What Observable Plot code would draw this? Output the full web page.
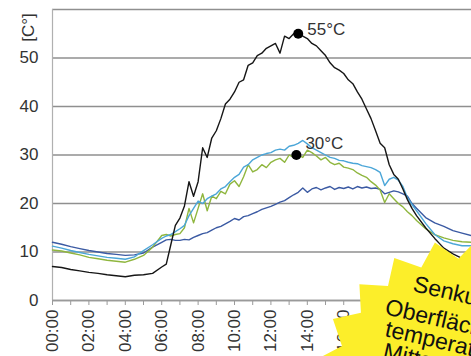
<!DOCTYPE html>
<html>
<head>
<meta charset="utf-8">
<script src="https://cdn.jsdelivr.net/npm/d3@7"></script>
<script src="https://cdn.jsdelivr.net/npm/@observablehq/plot@0.6"></script>
<style>
  html, body { margin: 0; padding: 0; background: #fff; }
  #chart { width: 471px; height: 356px; overflow: hidden; }
</style>
</head>
<body>
<div id="chart"></div>
<script>
// ---- data ----
const hours = [0,0.5,1,1.5,2,2.5,3,3.5,4,4.5,5,5.5,6,
  6.25,6.5,6.75,7,7.25,7.5,7.75,8,8.25,8.5,8.75,9,9.25,9.5,9.75,10,
  10.25,10.5,10.75,11,11.25,11.5,11.75,12,12.25,12.5,12.75,13,13.25,13.5,13.75,14,
  14.25,14.5,14.75,15,15.25,15.5,15.75,16,16.25,16.5,16.75,17,17.25,17.5,17.75,18,
  18.25,18.5,18.75,19,19.25,19.5,19.75,20,20.5,21,21.5,22,22.5,23];

const blackSeries = [7.0,6.8,6.4,6.1,5.8,5.6,5.3,5.1,4.9,5.2,5.3,5.6,6.9,
  7.5,11.5,15.5,17.0,19.5,24.5,21.5,24.5,31.5,29.5,33.5,35.0,37.5,40.5,41.5,43.0,
  45.0,45.5,48.5,49.0,50.5,51.0,52.0,52.5,53.0,51.0,54.5,54.0,55.0,55.0,54.5,54.0,
  53.0,52.5,51.5,50.5,49.0,48.0,47.5,46.8,45.5,44.7,43.0,41.5,39.5,37.5,35.0,32.4,
  31.5,28.0,26.0,25.0,23.0,20.8,19.0,17.5,15.0,12.8,10.8,9.6,8.7,7.6];

const lightBlueSeries = [11.2,10.8,10.3,9.9,9.5,9.2,8.9,8.7,8.5,9.0,10.3,11.5,12.8,
  13.3,13.6,14.2,14.8,15.5,17.5,19.0,20.5,20.0,21.0,21.5,22.0,23.0,23.5,24.5,25.4,
  26.0,27.5,28.0,29.0,29.5,30.0,30.3,30.5,31.0,31.2,31.0,31.8,32.0,32.4,33.0,32.3,
  31.5,31.0,30.5,30.0,29.5,29.3,28.9,28.8,28.5,28.3,28.2,27.8,27.6,27.4,27.0,26.4,
  23.7,25.0,25.4,24.8,23.5,21.2,19.8,18.5,15.9,13.6,12.3,11.7,11.3,11.3];

const greenSeries = [10.4,10.2,9.8,9.4,8.9,8.6,8.3,8.1,7.9,8.5,9.3,11.0,13.4,
  13.6,13.3,13.6,13.8,15.0,19.0,16.0,19.0,22.0,18.5,21.5,21.0,22.5,22.0,24.0,24.7,
  23.5,25.5,28.0,26.5,27.0,28.0,27.4,28.5,29.0,29.3,28.5,30.0,29.5,30.0,29.5,31.0,
  30.5,29.8,29.0,29.5,28.5,28.0,28.3,27.5,27.3,27.0,26.3,25.8,25.4,24.5,23.8,22.8,
  20.2,22.0,21.0,20.0,19.3,18.3,17.5,16.5,14.8,13.6,12.9,12.4,12.1,12.0];

const darkBlueSeries = [12.0,11.6,11.1,10.7,10.3,10.0,9.7,9.5,9.3,9.4,9.8,11.0,12.0,
  12.5,12.6,12.4,12.4,12.6,12.5,13.0,13.4,13.8,14.0,14.5,15.0,15.3,15.8,16.3,16.9,
  16.6,17.3,17.5,17.9,18.3,18.8,19.1,19.4,19.8,20.3,20.6,21.2,21.8,22.3,23.2,22.3,
  23.0,23.3,22.8,23.2,23.5,22.9,23.3,23.1,23.4,23.0,23.5,23.2,23.4,23.1,23.2,22.9,
  22.0,22.3,22.6,22.4,22.0,21.5,20.0,19.0,17.1,16.0,15.3,14.4,13.9,13.4];

const seriesNames  = ["dunkelblau", "gruen", "hellblau", "schwarz"];
const seriesValues = [darkBlueSeries, greenSeries, lightBlueSeries, blackSeries];
const seriesColors = ["#3b5aa3", "#8fb63e", "#4ba6d8", "#161616"];

const peakHours  = [13.5, 13.4];
const peakValues = [55, 30];
const peakLabels = ["55°C", "30°C"];

const yTicks = [0, 10, 20, 30, 40, 50];
const gridValues = [0, 10, 20, 30, 40, 50, 60];
const minorTickHours = d3.range(0, 24, 1);
const labelHours = [0, 2, 4, 6, 8, 10, 12, 14, 16, 18, 20, 22];
const labelTexts = ["00:00","02:00","04:00","06:00","08:00","10:00","12:00","14:00","16:00","18:00","20:00","22:00"];
const yAxisTitle = "[C°]";
const noteLines = ["Senkung der", "Oberflächen-", "temperatur", "Mittags"];

// ---- build tables ----
const rows = [];
seriesNames.forEach((name, i) => {
  hours.forEach((h, j) => rows.push({series: name, hour: h, value: seriesValues[i][j]}));
});
const peaks = peakHours.map((h, i) => ({hour: h, value: peakValues[i], label: peakLabels[i]}));
const labelMap = new Map(labelHours.map((h, i) => [h, labelTexts[i]]));

const font = "'Liberation Sans', Arial, Helvetica, sans-serif";

const chart = Plot.plot({
  width: 471,
  height: 356,
  marginLeft: 52,
  marginRight: 0,
  marginTop: 9,
  marginBottom: 56,
  style: {fontFamily: font, fontSize: "17px", color: "#333", background: "#fff"},
  x: {domain: [0, 23.02]},
  y: {domain: [0, 60]},
  color: {domain: seriesNames, range: seriesColors},
  marks: [
    Plot.gridY(gridValues, {stroke: "#8f8f8f", strokeOpacity: 1, strokeWidth: 1.4}),
    Plot.ruleX([0], {stroke: "#b0b0b0", strokeWidth: 1.2}),
    Plot.ruleY([0], {stroke: "#9a9a9a", strokeWidth: 1.4}),
    Plot.axisY({ticks: yTicks, tickSize: 0, tickPadding: 14, label: null, fill: "#333"}),
    Plot.axisX({ticks: minorTickHours, tickSize: 5, tickFormat: () => "", label: null, stroke: "#9a9a9a"}),
    Plot.axisX({ticks: labelHours, tickSize: 0, tickPadding: 9, tickRotate: -90,
      tickFormat: d => labelMap.get(d), label: null, fill: "#333"}),
    Plot.text([yAxisTitle], {frameAnchor: "top-left", dx: -24, dy: 18, rotate: -90,
      textAnchor: "middle", lineAnchor: "middle", text: d => d, fill: "#333", fontSize: 17}),
    Plot.line(rows, {x: "hour", y: "value", z: "series", stroke: "series", strokeWidth: 1.4,
      strokeLinejoin: "round"}),
    Plot.dot(peaks, {x: "hour", y: "value", r: 5, fill: "#000", stroke: "none"}),
    Plot.text(peaks.slice(0, 1), {x: "hour", y: "value", text: "label", textAnchor: "start",
      dx: 9, dy: -4, fill: "#333", fontSize: 17}),
    Plot.text(peaks.slice(1, 2), {x: "hour", y: "value", text: "label", textAnchor: "start",
      dx: 9, dy: -11, fill: "#333", fontSize: 17})
  ]
});

document.getElementById("chart").appendChild(chart);
const svg = d3.select(chart);

// ---- decorative yellow starburst note (cropped by the frame) ----
const cx = 472, cy = 398, rOuter = 160, rInner = 140, nSpikes = 23;
const a0 = -103.4 * Math.PI / 180;
const pts = [];
for (let k = 0; k < nSpikes * 2; k++) {
  const a = a0 + k * Math.PI / nSpikes;
  const r = k % 2 === 0 ? rOuter : rInner;
  pts.push([cx + r * Math.cos(a), cy + r * Math.sin(a)]);
}
const note = svg.append("g").attr("text-anchor", "start");
note.append("polygon")
  .attr("points", pts.map(p => p[0].toFixed(1) + "," + p[1].toFixed(1)).join(" "))
  .attr("fill", "#fcee2a")
  .attr("stroke", "none");

const notePos = [[412, 291], [384, 314], [384, 336], [382, 358]];
noteLines.forEach((t, i) => {
  note.append("text")
    .attr("transform", `translate(${notePos[i][0]},${notePos[i][1]}) rotate(13)`)
    .attr("text-anchor", "start")
    .attr("font-family", font)
    .attr("font-size", 23)
    .attr("fill", "#111")
    .text(t);
});
</script>
</body>
</html>
